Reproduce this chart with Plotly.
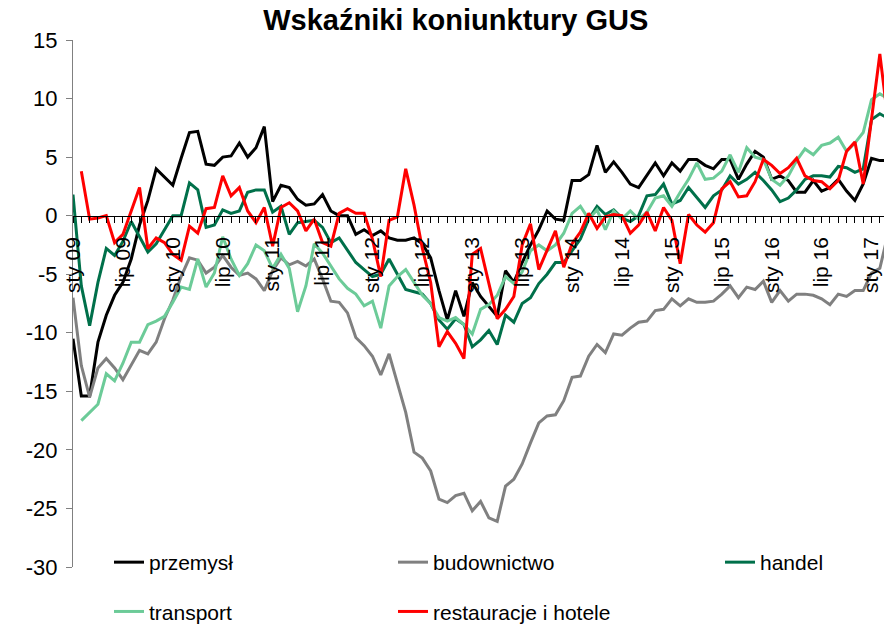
import plotly.graph_objects as go

# months counted from sty 09 (0) onwards
tick_vals = list(range(0, 97, 6))
tick_text = ["sty 09", "lip 09", "sty 10", "lip 10", "sty 11", "lip 11",
             "sty 12", "lip 12", "sty 13", "lip 13", "sty 14", "lip 14",
             "sty 15", "lip 15", "sty 16", "lip 16", "sty 17"]
y_ticks = [15, 10, 5, 0, -5, -10, -15, -20, -25, -30]

przemysl = [-10.5, -15.4, -15.4, -10.8, -8.5, -6.8, -5.7, -3.7, -0.8, 1.3,
            4.0, 3.3, 2.6, 4.9, 7.1, 7.2, 4.4, 4.3, 5.0, 5.1,
            6.2, 5.0, 5.8, 7.6, 1.2, 2.6, 2.4, 1.4, 0.9, 1.0,
            1.8, 0.4, 0.0, 0.0, -1.6, -1.2, -1.7, -1.3, -1.9, -2.1,
            -2.1, -1.9, -2.4, -3.6, -6.4, -8.9, -6.4, -8.6, -5.7, -6.9,
            -7.8, -8.6, -4.7, -5.7, -4.0, -2.5, -1.2, 0.4, -0.3, -0.4,
            3.0, 3.0, 3.5, 6.0, 3.7, 4.6, 3.7, 2.7, 2.4, 3.4,
            4.5, 3.4, 4.5, 3.8, 4.8, 4.8, 4.3, 4.0, 4.8, 4.8,
            3.1, 4.4, 5.5, 5.0, 3.1, 3.4, 3.0, 2.0, 2.0, 3.0,
            2.1, 2.4, 3.1, 2.1, 1.3, 2.7, 4.9, 4.7, 4.7]

budownictwo = [-7.0, -12.8, -15.5, -13.0, -12.2, -13.0, -14.0, -12.8, -11.5, -11.8,
               -10.8, -8.8, -7.2, -5.2, -3.6, -3.8, -4.9, -4.4, -3.4, -4.4,
               -5.1, -4.9, -5.4, -6.4, -4.7, -3.6, -4.2, -3.9, -4.3, -3.7,
               -5.4, -7.3, -7.4, -8.3, -10.4, -11.1, -12.0, -13.6, -11.8, -14.3,
               -16.8, -20.2, -20.7, -21.8, -24.2, -24.5, -23.9, -23.7, -25.2, -24.4,
               -25.8, -26.1, -23.1, -22.5, -21.2, -19.4, -17.7, -17.1, -17.0, -15.8,
               -13.8, -13.7, -12.0, -11.0, -11.7, -10.1, -10.2, -9.6, -9.1, -9.0,
               -8.1, -8.0, -7.1, -7.7, -7.1, -7.4, -7.4, -7.3, -6.7, -6.0,
               -7.0, -6.1, -6.3, -5.6, -7.4, -6.4, -7.3, -6.7, -6.7, -6.8,
               -7.1, -7.6, -6.7, -6.9, -6.4, -6.4, -4.9, -4.5, -1.5]

handel = [1.8, -6.0, -9.4, -5.7, -2.8, -3.4, -2.2, -0.5, -1.8, -3.1,
          -2.4, -1.2, 0.0, 0.0, 2.8, 2.2, -1.0, -0.8, 0.5, 0.2,
          0.4, 2.0, 2.2, 2.2, 0.3, 0.8, -1.6, -0.6, -0.5, -0.4,
          -1.0, -2.3, -1.9, -3.0, -4.0, -4.6, -5.2, -5.0, -3.7, -5.0,
          -6.3, -6.5, -6.7, -7.5, -8.9, -9.7, -8.8, -9.3, -11.2, -10.6,
          -9.8, -11.0, -8.5, -9.1, -7.5, -7.0, -5.8, -5.0, -4.0, -4.0,
          -3.0, -2.0, -0.3, 0.8, 0.1, 0.5, -0.2, -0.5, 0.0, 1.7,
          1.8, 2.7, 1.0, 1.3, 2.4, 1.5, 0.7, 1.7, 2.2, 3.4,
          2.7, 3.1, 3.7, 3.0, 2.2, 1.2, 1.5, 2.2, 3.1, 3.4,
          3.4, 3.3, 4.2, 4.1, 3.7, 4.0, 8.2, 8.7, 8.3]

transport = [None, -17.5, -16.8, -16.1, -13.5, -14.1, -12.6, -10.8, -10.8, -9.3,
             -9.0, -8.6, -7.4, -6.1, -6.3, -3.7, -6.1, -4.9, -1.8, -3.7,
             -5.1, -4.1, -2.5, -3.0, -4.5, -3.3, -4.5, -8.2, -6.0, -2.4,
             -3.2, -4.3, -5.4, -6.2, -6.7, -7.7, -7.3, -9.6, -6.0, -5.2,
             -4.6, -5.7, -6.8, -7.5, -8.7, -9.0, -8.7, -9.3, -10.1, -8.0,
             -7.6, -6.8, -5.2, -5.8, -4.8, -3.0, -2.5, -3.0, -2.5, -1.5,
             0.2, 0.8, -0.3, 0.5, -1.2, 0.4, -0.3, 0.4, -0.3, 0.3,
             1.5, 1.7, 0.8, 2.0, 3.1, 4.5, 3.1, 3.2, 3.8, 5.2,
             3.7, 5.8, 5.0, 4.8, 3.1, 2.6, 3.4, 4.7, 5.7, 5.2,
             6.0, 6.2, 6.7, 5.5, 6.2, 7.1, 9.9, 10.4, 10.0]

restauracje = [None, 3.8, -0.3, -0.2, 0.0, -2.3, -1.6, 0.4, 2.4, -2.8,
               -1.9, -2.3, -3.3, -3.8, -0.9, -1.5, 0.6, 0.7, 3.4, 1.7,
               2.4, 0.4, -0.6, 0.7, -2.6, 0.7, 1.1, 0.4, -1.3, -0.3,
               -2.3, -2.6, 0.2, 0.6, 0.2, 0.2, -2.0, -5.2, -0.4, -0.1,
               4.0, 0.9, -2.8, -5.7, -11.2, -9.9, -10.9, -12.2, -3.3, -2.8,
               -5.8, -8.8, -8.0, -6.9, -2.5, -0.7, -4.6, -3.0, -1.3, -4.4,
               -2.4, -1.4, 0.2, -1.1, -0.1, 0.1, 0.0, -1.5, -0.8, 0.3,
               -1.3, 0.7, -0.4, -4.1, 0.1, -0.8, -1.4, -0.6, 2.3, 2.9,
               1.6, 1.7, 2.9, 4.8, 4.3, 3.6, 4.1, 4.9, 3.4, 3.0,
               2.9, 2.3, 3.0, 5.5, 6.3, 2.7, 8.2, 13.8, 8.0]

months = list(range(len(przemysl)))

series = [
    ("przemysł", przemysl, "#000000", "legend"),
    ("budownictwo", budownictwo, "#808080", "legend2"),
    ("handel", handel, "#00704A", "legend3"),
    ("transport", transport, "#6CCB98", "legend"),
    ("restauracje i hotele", restauracje, "#FF0000", "legend2"),
]

fig = go.Figure()
for name, vals, color, leg in series:
    fig.add_trace(go.Scatter(
        x=months, y=vals, name=name, mode="lines",
        line=dict(color=color, width=3),
        legend=leg, legendgroup=name,
    ))

font = "Liberation Sans, Arial, sans-serif"
legend_style = dict(xref="container", yref="container", xanchor="left", yanchor="top",
                    orientation="v", font=dict(size=21, color="black"),
                    tracegroupgap=19, bgcolor="rgba(0,0,0,0)", itemwidth=30)
legend_top = 1 - 542 / 626

fig.update_layout(
    width=885, height=626,
    margin=dict(l=73, r=1, t=40, b=59, autoexpand=False),
    paper_bgcolor="white", plot_bgcolor="white",
    font=dict(family=font, color="black"),
    title=dict(text="<b>Wskaźniki koniunktury GUS</b>", x=0.515, xref="container",
               y=0.968, yanchor="middle", xanchor="center",
               font=dict(size=29, family=font, color="black")),
    legend=dict(x=109 / 885, y=legend_top, **legend_style),
    legend2=dict(x=393 / 885, y=legend_top, **legend_style),
    legend3=dict(x=720 / 885, y=legend_top, **legend_style),
)

fig.update_xaxes(
    range=[0, 97.5], showgrid=False, zeroline=False,
    anchor="free", position=30 / 45,
    showline=True, linecolor="black", linewidth=1,
    tickmode="array", tickvals=tick_vals, ticktext=tick_text,
    tickangle=-90, ticks="outside", ticklen=6, tickcolor="black",
    ticklabelstandoff=6,
    minor=dict(dtick=1, ticks="outside", ticklen=6, tickcolor="black"),
    tickfont=dict(size=21, family=font, color="black"),
)
fig.update_yaxes(
    range=[-30, 15], showgrid=False, zeroline=False,
    tickmode="array", tickvals=y_ticks, ticktext=[str(v) for v in y_ticks],
    showline=True, linecolor="#808080", linewidth=1,
    ticks="outside", ticklen=6, tickcolor="#808080", ticklabelstandoff=4,
    tickfont=dict(size=22, family=font, color="black"),
)

fig.write_html("out.html", config={"displayModeBar": False},
               post_script="document.body.style.margin='0px';")
